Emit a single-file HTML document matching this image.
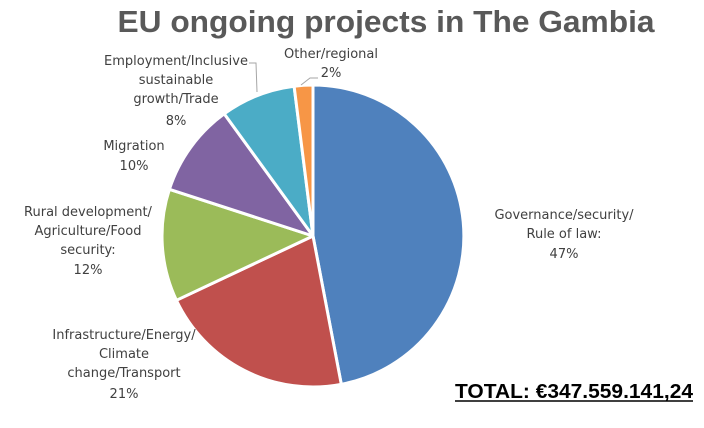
<!DOCTYPE html><html><head><style>body{margin:0;background:#fff}svg{display:block}text{font-family:"Liberation Sans",sans-serif}.l text{font-family:"DejaVu Sans",sans-serif}</style></head><body>
<svg width="704" height="428" xmlns="http://www.w3.org/2000/svg">
<text x="386" y="32" text-anchor="middle" font-size="31" font-weight="bold" fill="#595959" textLength="537" lengthAdjust="spacingAndGlyphs">EU ongoing projects in The Gambia</text>
<g stroke="#fff" stroke-width="3" stroke-linejoin="round">
<path d="M313,236 L313,85 A151,151 0 0 1 341.3,384.3 Z" fill="#4F81BD"/>
<path d="M313,236 L341.3,384.3 A151,151 0 0 1 176.4,300.3 Z" fill="#C0504D"/>
<path d="M313,236 L176.4,300.3 A151,151 0 0 1 169.4,189.3 Z" fill="#9BBB59"/>
<path d="M313,236 L169.4,189.3 A151,151 0 0 1 224.2,113.8 Z" fill="#8064A2"/>
<path d="M313,236 L224.2,113.8 A151,151 0 0 1 294.1,86.2 Z" fill="#4BACC6"/>
<path d="M313,236 L294.1,86.2 A151,151 0 0 1 313,85 Z" fill="#F79646"/>
</g>
<g fill="none" stroke="#a6a6a6" stroke-width="1">
<polyline points="249,63 256,63 257,92"/>
<polyline points="301,85 310,78 318,78"/>
</g>
<g class="l" font-size="13" fill="#404040" text-anchor="middle">
<text x="176" y="65">Employment/Inclusive</text>
<text x="176" y="84">sustainable</text>
<text x="176" y="103">growth/Trade</text>
<text x="176" y="125">8%</text>
<text x="331" y="58">Other/regional</text>
<text x="331" y="77">2%</text>
<text x="134" y="150">Migration</text>
<text x="134" y="170">10%</text>
<text x="88" y="216">Rural development/</text>
<text x="88" y="235">Agriculture/Food</text>
<text x="88" y="254">security:</text>
<text x="88" y="274">12%</text>
<text x="124" y="339">Infrastructure/Energy/</text>
<text x="124" y="358">Climate</text>
<text x="124" y="377">change/Transport</text>
<text x="124" y="398">21%</text>
<text x="564" y="219">Governance/security/</text>
<text x="564" y="238">Rule of law:</text>
<text x="564" y="258">47%</text>
</g>
<text x="455" y="398" font-size="20" font-weight="bold" fill="#000" textLength="238" lengthAdjust="spacingAndGlyphs">TOTAL: €347.559.141,24</text>
<line x1="455" y1="401" x2="693" y2="401" stroke="#000" stroke-width="1.5"/>
</svg></body></html>
